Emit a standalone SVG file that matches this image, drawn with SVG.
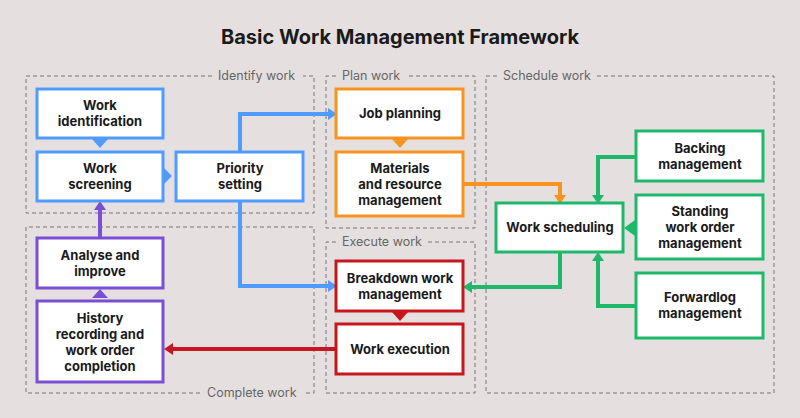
<svg xmlns="http://www.w3.org/2000/svg" width="800" height="418" viewBox="0 0 800 418">
<style>
.grp{fill:none;stroke:#777;stroke-width:1;stroke-dasharray:4 3}
.gl{font-family:Inter,"Liberation Sans",sans-serif;font-size:12.5px;fill:#666}
.n{fill:#fff;stroke-width:3}
.t{font-family:Inter,"Liberation Sans",sans-serif;font-size:13px;font-weight:700;fill:#1a1a1a;text-anchor:middle}
.b{stroke:#4f9bff}.o{stroke:#f7931e}.p{stroke:#7a4fd6}.r{stroke:#c8161e}.g{stroke:#1db86a}
.ln{fill:none;stroke-width:4}
</style>
<rect width="800" height="418" fill="#e5e0df"/>
<text x="400" y="44" text-anchor="middle" font-family="Inter,'Liberation Sans',sans-serif" font-size="20" font-weight="700" fill="#1a1a1a">Basic Work Management Framework</text>
<g id="groups">
<path class="grp" d="M212 76H26V213H314V76H303"/>
<text class="gl" x="218" y="80">Identify work</text>
<path class="grp" d="M336 76H326V228H475V76H408"/>
<text class="gl" x="342" y="80">Plan work</text>
<path class="grp" d="M336 242H326V393H475V242H428"/>
<text class="gl" x="342" y="246">Execute work</text>
<path class="grp" d="M200 393H26V227H314V393H303"/>
<text class="gl" x="207" y="397">Complete work</text>
<path class="grp" d="M497 76H486V393H774V76H597"/>
<text class="gl" x="503" y="80">Schedule work</text>
</g>
<g id="connectors">
<path class="ln b" d="M240 152V114H328"/><polygon fill="#4f9bff" points="328,108 337,114 328,120"/>
<path class="ln b" d="M240 201V286H328"/><polygon fill="#4f9bff" points="328,280 337,286 328,292"/>
<polygon fill="#4f9bff" points="92,139 108,139 100,148"/>
<polygon fill="#4f9bff" points="164,168 172,176 164,184"/>
<polygon fill="#f7931e" points="392,139 408,139 400,148"/>
<path class="ln" stroke="#f7931e" d="M463 184H560V196"/><polygon fill="#f7931e" points="554,195 566,195 560,204"/>
<path class="ln g" d="M636 157H598V196"/><polygon fill="#1db86a" points="592,195 604,195 598,204"/>
<path class="ln g" d="M636 306H598V260"/><polygon fill="#1db86a" points="592,261 604,261 598,252"/>
<polygon fill="#1db86a" points="635,220 624,228 635,236"/>
<path class="ln g" d="M560 252V287H471"/><polygon fill="#1db86a" points="472,281 463,287 472,293"/>
<polygon fill="#c8161e" points="392,312 408,312 400,321"/>
<path class="ln r" d="M336 349H172"/><polygon fill="#c8161e" points="173,343 164,349 173,355"/>
<polygon fill="#7a4fd6" points="92,298 108,298 100,289"/>
<path class="ln p" d="M100 238V209"/><polygon fill="#7a4fd6" points="94,210 106,210 100,201"/>
</g>
<g id="work-identification"><rect class="n b" x="37" y="89" width="126" height="49"/><text class="t" x="100" y="110">Work</text><text class="t" x="100" y="126">identification</text></g>
<g id="work-screening"><rect class="n b" x="37" y="152" width="126" height="49"/><text class="t" x="100" y="173">Work</text><text class="t" x="100" y="189">screening</text></g>
<g id="priority-setting"><rect class="n b" x="176" y="152" width="127" height="49"/><text class="t" x="240" y="173">Priority</text><text class="t" x="240" y="189">setting</text></g>
<g id="job-planning"><rect class="n o" x="336" y="89" width="127" height="49"/><text class="t" x="400" y="118">Job planning</text></g>
<g id="materials"><rect class="n o" x="336" y="152" width="127" height="64"/><text class="t" x="400" y="173">Materials</text><text class="t" x="400" y="189">and resource</text><text class="t" x="400" y="205">management</text></g>
<g id="analyse"><rect class="n p" x="37" y="238" width="126" height="50"/><text class="t" x="100" y="260">Analyse and</text><text class="t" x="100" y="276">improve</text></g>
<g id="history"><rect class="n p" x="37" y="301" width="126" height="81"/><text class="t" x="100" y="323">History</text><text class="t" x="100" y="339">recording and</text><text class="t" x="100" y="355">work order</text><text class="t" x="100" y="371">completion</text></g>
<g id="breakdown"><rect class="n r" x="336" y="261" width="127" height="50"/><text class="t" x="400" y="283">Breakdown work</text><text class="t" x="400" y="299">management</text></g>
<g id="work-execution"><rect class="n r" x="336" y="324" width="127" height="50"/><text class="t" x="400" y="354">Work execution</text></g>
<g id="work-scheduling"><rect class="n g" x="496" y="203" width="127" height="49"/><text class="t" x="560" y="232">Work scheduling</text></g>
<g id="backing"><rect class="n g" x="636" y="131" width="127" height="50"/><text class="t" x="700" y="153">Backing</text><text class="t" x="700" y="169">management</text></g>
<g id="standing"><rect class="n g" x="636" y="195" width="127" height="64"/><text class="t" x="700" y="216">Standing</text><text class="t" x="700" y="232">work order</text><text class="t" x="700" y="248">management</text></g>
<g id="forwardlog"><rect class="n g" x="636" y="273" width="127" height="65"/><text class="t" x="700" y="302">Forwardlog</text><text class="t" x="700" y="318">management</text></g>
</svg>
